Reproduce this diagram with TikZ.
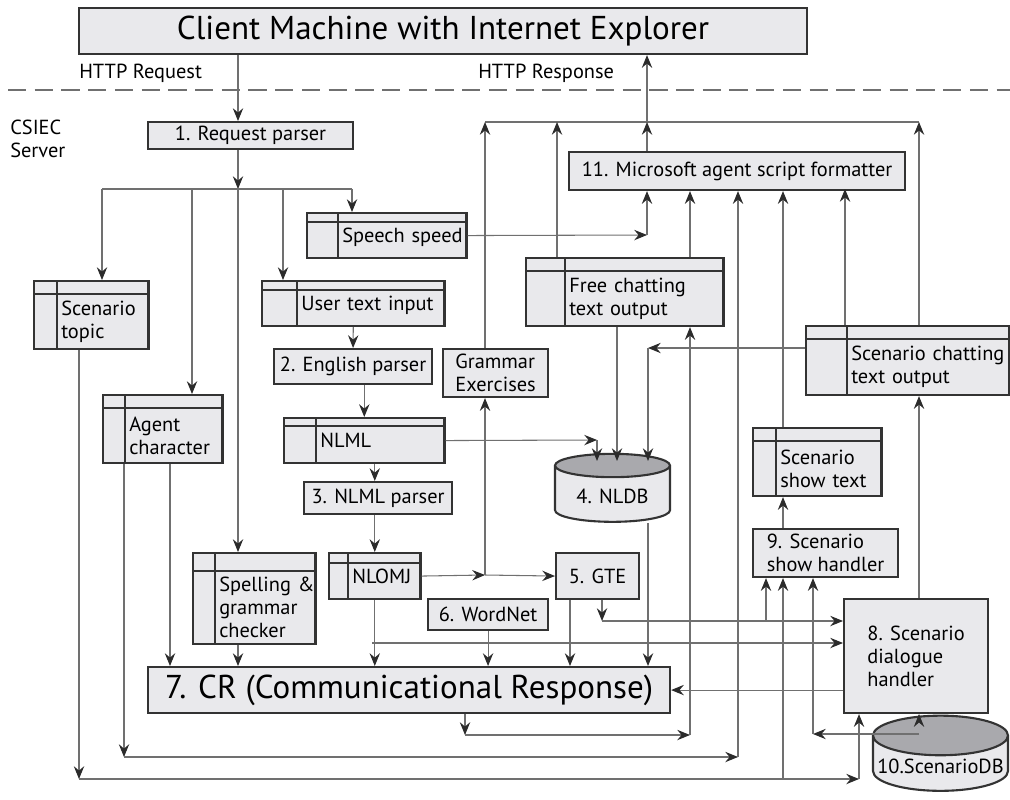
\documentclass[tikz,border=0pt]{standalone}
\usepackage{fontspec}
\setmainfont{PT Sans}
\usetikzlibrary{arrows.meta,shapes.geometric,calc}

\definecolor{boxfill}{HTML}{E9E9EC}
\definecolor{boxline}{HTML}{333333}
\definecolor{wirecol}{HTML}{707070}
\definecolor{tipcol}{HTML}{2B2B2B}
\definecolor{dbtop}{HTML}{A9A9AD}

\newdimen\pxlen \pxlen=0.025cm
\newcommand\midfont{\fontsize{14.5}{16.4}\selectfont}
\newcommand\bigfont{\fontsize{23.5}{26}\selectfont}

\tikzset{
    block/.style 2 args = {draw=boxline, fill=boxfill, line width=1.5pt, rectangle,
        anchor=north west, inner sep=3pt, font=\midfont,
        minimum width=#1*0.025cm, minimum height=#2*0.025cm, align=center},
    datastore/.style n args = {4}{block={#1}{#2}, align=left,
        text width=(#1-8)*0.025cm,
        execute at begin node={\leftskip=#3\pxlen \rightskip=-#3\pxlen plus 1fil},
        execute at end node={\par\vspace*{-#4\pxlen}},
        path picture={
            \draw[boxline, line width=1.5pt] ([yshift=-#4*0.025cm]path picture bounding box.north west)
                -- ([yshift=-#4*0.025cm]path picture bounding box.north east);
            \draw[boxline, line width=1.5pt] ([xshift=#3*0.025cm]path picture bounding box.north west)
                -- ([xshift=#3*0.025cm]path picture bounding box.south west);
        }},
    database/.style 2 args = {cylinder, shape border rotate=90, draw=boxline, line width=1.5pt,
        aspect=0.3, cylinder uses custom fill, cylinder body fill=boxfill, cylinder end fill=dbtop,
        minimum width=#1*0.025cm, minimum height=#2*0.025cm, inner sep=2pt, font=\midfont},
    note/.style = {font=\midfont, inner sep=0pt, align=left},
    wire/.style = {draw=wirecol, line width=0.75pt},
    arrow/.style = {wire, ->}
}

\begin{document}
\begin{tikzpicture}[x=0.025cm, y=-0.025cm, >={Stealth[length=3.2mm, width=2.6mm, inset=1.1mm, color=tipcol]}]
    \useasboundingbox (0,0) rectangle (1010,800);

    % client side and border
    \node [block={728}{46}, font=\bigfont] (client) at (78,7) {Client Machine with Internet Explorer};
    \node [note, anchor=west] (httpreq) at (79,73) {HTTP Request};
    \node [note, anchor=west] (httpresp) at (478,73) {HTTP Response};
    \draw [wirecol, line width=1.3pt, dash pattern=on 13pt off 6pt] (8,90) -- (1010,90);
    \node [note, anchor=north west] (csiec) at (10,120) {CSIEC\\Server};

    % server blocks
    \node [block={205}{26}] (reqparser) at (147,121) {1. Request parser};
    \node [datastore={159}{45}{31}{9}] (speed) at (306,212) {Speech speed};
    \node [datastore={114}{68}{23}{13}] (topic) at (33,280) {Scenario\\topic};
    \node [datastore={182}{45}{35}{9}] (user) at (261,280) {User text input};
    \node [block={158}{35}] (english) at (273,348) {2. English parser};
    \node [block={105}{48}, align=left] (grammar) at (442,348) {Grammar\\Exercises};
    \node [datastore={119}{68}{22}{13}] (agent) at (102,394) {Agent\\character};
    \node [datastore={160}{45}{32}{8}] (nlml) at (283,417) {NLML};
    \node [block={148}{32}] (nlmlparser) at (303,481) {3. NLML parser};
    \node [datastore={91}{46}{19}{10}] (nlomj) at (328,552) {NLOMJ};
    \node [datastore={122}{91}{22}{18}] (spelling) at (192,552) {Spelling \&\\grammar\\checker};
    \node [block={120}{31}] (wordnet) at (427,598) {6. WordNet};
    \node [block={83}{46}] (gte) at (555,552) {5. GTE};
    \node [database={115}{68}] (nldb) at (612.5,496) {4. NLDB};
    \node [block={522}{46}, font=\bigfont] (cr) at (147,666) {7. CR (Communicational Response)};
    \node [datastore={197}{68}{39}{13}] (free) at (525,257) {Free chatting\\text output};
    \node [block={336}{38}] (formatter) at (568,151) {11. Microsoft agent script formatter};
    \node [datastore={203}{69}{41}{13}] (scchat) at (805,325) {Scenario chatting\\text output};
    \node [datastore={128}{68}{23}{13}] (showtext) at (752,427) {Scenario\\show text};
    \node [block={145}{48}, align=left] (showhandler) at (752,528) {9. Scenario\\show handler};
    \node [block={144}{114}, align=left] (handler) at (843,598) {8. Scenario\\dialogue\\handler};
    \node [database={135}{63}] (scdb) at (940.5,766.5) {10.ScenarioDB};

    % junctions
    \coordinate (split) at (238,189);
    \coordinate (b1) at (102,189);
    \coordinate (b2) at (192,189);
    \coordinate (b4) at (283,189);
    \coordinate (b5) at (352,189);
    \coordinate (sp) at (647,235);
    \coordinate (busL) at (485,122);
    \coordinate (busF) at (557,122);
    \coordinate (busM) at (647,122);
    \coordinate (busR) at (919,122);
    \coordinate (f5) at (845,189);
    \coordinate (gx) at (485,575);
    \coordinate (nj) at (597,440);
    \coordinate (sj) at (648,348);
    \coordinate (n1) at (597,461);
    \coordinate (n2) at (617,461);
    \coordinate (n3) at (648,461);
    \coordinate (g1) at (570,600);
    \coordinate (g2) at (602,621);
    \coordinate (h1) at (766,621);
    \coordinate (nh) at (372,643);
    \coordinate (a2) at (170,600);
    \coordinate (crd) at (465,735);
    \coordinate (crl) at (690,735);
    \coordinate (agd) at (124,757);
    \coordinate (agr) at (738,757);
    \coordinate (tpd) at (79,779);
    \coordinate (tpr) at (859,779);
    \coordinate (sdc) at (783,779);
    \coordinate (dbj) at (813,734);

    % request side
    \draw [arrow] (client.south -| split) -- (reqparser.north -| split);
    \draw [arrow] (reqparser.south -| split) -- (split);
    \draw [wire] (b1) -- (b5);
    \draw [arrow] (b1) -- (b1 |- topic.north);
    \draw [arrow] (b2) -- (b2 |- agent.north);
    \draw [arrow] (split) -- (split |- spelling.north);
    \draw [arrow] (b4) -- (b4 |- user.north);
    \draw [arrow] (b5) -- (b5 |- speed.north);
    \draw [arrow] (user.south) -- (english.north);
    \draw [arrow] (english.south -| nlml.north) -- (nlml.north);
    \draw [arrow] (nlml.south -| nlomj.north) -- (nlmlparser.north -| nlomj.north);
    \draw [arrow] (nlmlparser.south -| nlomj.north) -- (nlomj.north);
    \draw [arrow] (nlomj.south) -- (nlomj.south |- cr.north);
    \draw [arrow] (nlomj.east) -- (gx);
    \draw [arrow] (gx) -- (gte.west);
    \draw [arrow] (gx) -- (gx |- grammar.south);
    \draw [arrow] (nh) -- (nh -| handler.west);

    % into the NLDB
    \draw [arrow] (nlml.east) -- (nj);
    \draw [arrow] (nj) -- (n1);
    \draw [arrow] (free.south -| n2) -- (n2);
    \draw [arrow] (scchat.west |- sj) -- (sj);
    \draw [arrow] (sj) -- (n3);

    % into the CR
    \draw [arrow] (agent.south -| a2) -- (a2 |- cr.north);
    \draw [arrow] (spelling.south -| split) -- (split |- cr.north);
    \draw [arrow] (wordnet.south) -- (wordnet.south |- cr.north);
    \draw [arrow] (gte.south -| g1) -- (g1 |- cr.north);
    \draw [arrow] (nldb.south -| n3) -- (n3 |- cr.north);
    \draw [arrow] (handler.west |- cr.east) -- (cr.east);

    % GTE to the scenario handlers
    \draw [arrow] (gte.south -| g2) -- (g2);
    \draw [arrow] (g2) -- (g2 -| handler.west);
    \draw [arrow] (h1) -- (h1 |- showhandler.south);

    % loops along the bottom
    \draw [arrow] (cr.south -| crd) -- (crd);
    \draw [arrow] (crd) -- (crl);
    \draw [arrow] (crl) -- (crl |- free.south);
    \draw [arrow] (agent.south -| agd) -- (agd);
    \draw [arrow] (agd) -- (agr);
    \draw [arrow] (agr) -- (agr |- formatter.south);
    \draw [arrow] (topic.south -| tpd) -- (tpd);
    \draw [arrow] (tpd) -- (tpr);
    \draw [arrow] (tpr) -- (tpr |- handler.south);
    \draw [arrow] (sdc) -- (sdc |- showhandler.south);
    \draw [arrow] (scdb.north -| busR) -- (busR |- handler.south);
    \draw [arrow] (dbj -| busR) -- (dbj);
    \draw [arrow] (dbj) -- (dbj |- showhandler.south);

    % scenario outputs
    \draw [arrow] (handler.north -| busR) -- (busR |- scchat.south);
    \draw [arrow] (showhandler.north -| sdc) -- (sdc |- showtext.south);

    % into the formatter
    \draw [arrow] (speed.east) -- (sp);
    \draw [arrow] (sp) -- (sp |- formatter.south);
    \draw [arrow] (free.north -| crl) -- (crl |- formatter.south);
    \draw [arrow] (showtext.north -| sdc) -- (sdc |- formatter.south);
    \draw [arrow] (scchat.north -| f5) -- (f5);

    % response bus
    \draw [wire] (busL) -- (busR);
    \draw [arrow] (grammar.north -| busL) -- (busL);
    \draw [arrow] (free.north -| busF) -- (busF);
    \draw [arrow] (formatter.north -| busM) -- (busM);
    \draw [arrow] (scchat.north -| busR) -- (busR);
    \draw [arrow] (busM) -- (busM |- client.south);
\end{tikzpicture}
\end{document}
